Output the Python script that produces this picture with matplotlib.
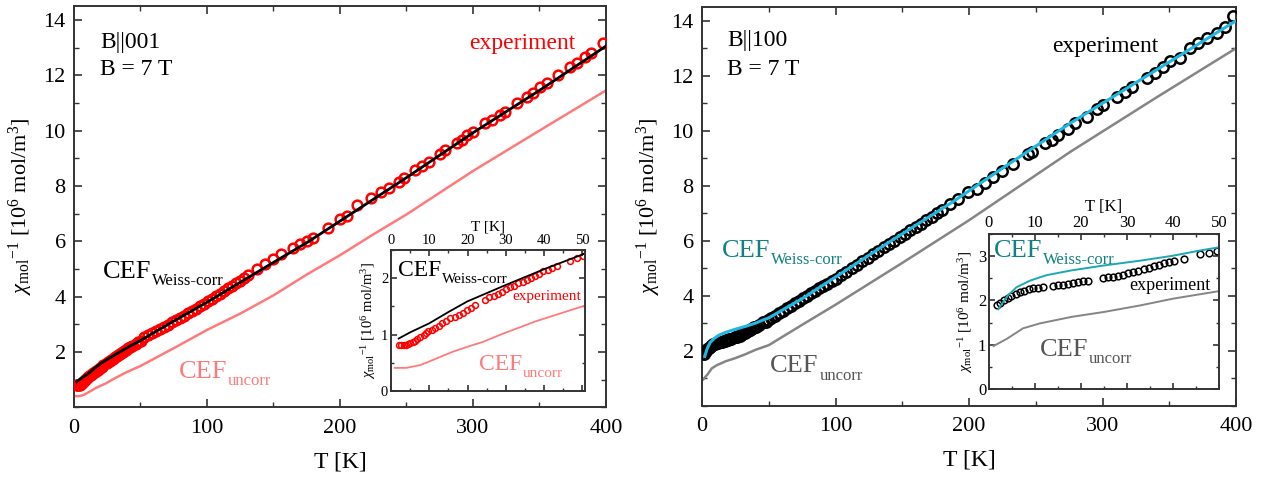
import numpy as np
import matplotlib
matplotlib.use('Agg')
import matplotlib.pyplot as plt
from matplotlib.ticker import MultipleLocator

plt.rcParams['font.family'] = ['Liberation Serif', 'DejaVu Serif']
plt.rcParams['mathtext.fontset'] = 'custom'
plt.rcParams['mathtext.rm'] = 'Liberation Serif'
plt.rcParams['mathtext.it'] = 'Liberation Serif:italic'

# ---------------- B || 001 ----------------
# experiment, low T (also shown in the inset)
T_exp_001_low = [2.0, 2.6, 3.3, 4.0, 4.5, 5.1, 5.7, 6.3, 6.8, 7.7, 8.5, 9.2, 9.8, 10.7,
                 11.6, 12.5, 13.3, 14.4, 15.5, 16.6, 17.7, 18.8, 19.8, 20.9, 22.0,
                 24.6, 25.7, 26.8, 27.9, 29.0, 30.0, 31.1, 32.2, 33.3, 34.4, 35.5,
                 36.6, 37.7, 38.8, 39.8, 40.9, 42.0, 43.3, 46.8, 48.5, 50.3]
chi_exp_001_low = [0.82, 0.82, 0.82, 0.82, 0.83, 0.85, 0.87, 0.89, 0.92, 0.96, 1.00, 1.03,
                   1.06, 1.09, 1.12, 1.16, 1.20, 1.25, 1.29, 1.32, 1.35, 1.39, 1.44, 1.48,
                   1.52, 1.62, 1.66, 1.69, 1.72, 1.76, 1.80, 1.84, 1.87, 1.91, 1.94, 1.97,
                   2.00, 2.04, 2.08, 2.12, 2.15, 2.18, 2.21, 2.30, 2.36, 2.40]
# experiment, high T
T_exp_001_high = [53, 56, 59, 62, 65, 68, 71, 74, 77, 80, 83, 86, 89, 92, 95, 98, 101, 104,
                  107, 110, 113, 116, 119, 122, 125, 128, 131, 137.5, 143.8, 150, 156, 165,
                  170, 175, 180, 191, 200, 205, 213, 223, 230.5, 236.7, 244.2, 248, 256.7,
                  261.7, 266.7, 275.4, 279.2, 287.9, 291.7, 295.4, 300.4, 309.1, 314.1,
                  320.4, 324.1, 332.9, 340.4, 345.4, 350.4, 355.4, 364.1, 372.9, 377.9,
                  384.1, 389.1, 397.9]
chi_exp_001_high = [2.55, 2.62, 2.69, 2.76, 2.84, 2.91, 2.99, 3.07, 3.15, 3.23, 3.31, 3.40,
                    3.48, 3.57, 3.66, 3.75, 3.84, 3.93, 4.02, 4.11, 4.20, 4.30, 4.39, 4.49,
                    4.58, 4.68, 4.77, 5.00, 5.18, 5.36, 5.54, 5.77, 5.89, 6.01, 6.13, 6.49,
                    6.79, 6.92, 7.31, 7.56, 7.79, 7.92, 8.16, 8.28, 8.58, 8.73, 8.88, 9.16,
                    9.30, 9.54, 9.66, 9.84, 9.96, 10.26, 10.38, 10.56, 10.68, 10.98, 11.22,
                    11.37, 11.56, 11.71, 12.01, 12.31, 12.45, 12.67, 12.79, 13.15]
# CEF Weiss-corrected
T_wc_001 = [2, 5, 10, 15, 20, 30, 40, 50, 75, 100, 125, 150, 175, 200, 250, 300, 350, 400]
chi_wc_001 = [0.93, 1.04, 1.20, 1.40, 1.59, 1.88, 2.16, 2.42, 3.12, 3.80, 4.52, 5.24, 5.95,
              6.73, 8.30, 9.92, 11.45, 13.05]
# CEF uncorrected
T_uc_001 = [1, 4, 7.7, 12, 16.3, 20.7, 24, 29.4, 38, 50, 75, 100, 125, 150, 175, 200, 225,
            250, 300, 350, 400]
chi_uc_001 = [0.41, 0.41, 0.46, 0.58, 0.70, 0.80, 0.87, 1.02, 1.24, 1.50, 2.14, 2.80, 3.39,
              4.05, 4.80, 5.50, 6.25, 6.97, 8.54, 10.0, 11.45]

# ---------------- B || 100 ----------------
T_exp_100_low = [1.7, 2.5, 3.3, 4.1, 4.9, 5.8, 6.7, 7.6, 8.6, 9.6, 10.6, 11.7, 13.9, 15.0,
                 16.1, 17.2, 18.3, 19.4, 20.5, 21.6, 24.8, 25.9, 27.0, 28.1, 29.2, 30.3,
                 31.4, 32.5, 33.6, 34.7, 35.8, 36.9, 38.0, 39.1, 40.2, 42.5, 45.8, 47.8, 49.6]
chi_exp_100_low = [1.89, 1.95, 2.00, 2.06, 2.11, 2.15, 2.19, 2.22, 2.25, 2.27, 2.29, 2.30,
                   2.33, 2.34, 2.36, 2.37, 2.39, 2.41, 2.43, 2.45, 2.51, 2.52, 2.54, 2.56,
                   2.58, 2.61, 2.64, 2.67, 2.71, 2.74, 2.77, 2.81, 2.84, 2.86, 2.88, 2.93,
                   3.04, 3.07, 3.11]
T_exp_100_high = [52, 55, 58, 61, 64, 67, 70, 73, 76, 79, 82, 85, 88, 91, 94, 97, 100, 104,
                  108, 112, 116, 120, 124, 128, 132, 136, 140, 144, 148, 152, 156, 160, 164,
                  168, 172, 176, 180, 185.8, 192.0, 199.5, 205.7, 212.0, 218.2, 224.5,
                  233.2, 244.5, 247.0, 257.0, 262.0, 267.0, 274.4, 279.4, 288.2, 295.7,
                  300.7, 310.6, 316.9, 321.9, 333.1, 339.4, 345.6, 350.6, 358.1, 365.6,
                  371.9, 378.1, 385.6, 391.9, 398.1]
chi_exp_100_high = [3.20, 3.28, 3.37, 3.46, 3.55, 3.64, 3.73, 3.82, 3.91, 4.00, 4.09, 4.18,
                    4.27, 4.36, 4.45, 4.54, 4.63, 4.76, 4.88, 5.01, 5.13, 5.26, 5.38, 5.51,
                    5.63, 5.76, 5.88, 6.01, 6.13, 6.26, 6.38, 6.51, 6.63, 6.76, 6.88, 7.01,
                    7.13, 7.35, 7.53, 7.78, 7.90, 8.10, 8.32, 8.54, 8.81, 9.17, 9.23, 9.54,
                    9.66, 9.84, 10.08, 10.27, 10.51, 10.81, 10.94, 11.24, 11.42, 11.61,
                    11.91, 12.09, 12.33, 12.52, 12.64, 13.00, 13.19, 13.37, 13.55, 13.79,
                    14.16]
T_wc_100 = [2, 3, 4, 6, 9, 12.5, 18, 25, 33, 40, 46, 50, 75, 96, 140, 186, 230, 276, 340, 400]
chi_wc_100 = [1.80, 1.95, 2.10, 2.30, 2.45, 2.57, 2.68, 2.79, 2.90, 3.01, 3.13, 3.20, 3.90,
              4.56, 5.95, 7.36, 8.80, 10.28, 12.20, 14.00]
T_uc_100 = [1, 4, 7.4, 11, 18, 25, 33, 40, 50, 75, 100, 150, 200, 276, 340, 400]
chi_uc_100 = [0.97, 1.14, 1.37, 1.48, 1.63, 1.74, 1.89, 2.04, 2.21, 2.95, 3.68, 5.20, 6.75,
              9.24, 11.20, 13.00]

RED = '#ff0000'
SALMON = '#ff7a7a'
CYAN = '#1fb8e2'
TEAL_TXT = '#12807f'
TEAL_IN = '#1aa8b4'
GRAY = '#858585'
GRAY_TXT = '#555555'
SPINE = '#333333'

ylab = r'$\chi_{\mathrm{mol}}{}^{-1}$ [10$^{6}$ mol/m$^{3}$]'


def style(ax, lsize, major_len=6, minor_len=3.5):
    for s in ax.spines.values():
        s.set_color(SPINE)
        s.set_linewidth(1.4)
    ax.tick_params(which='both', direction='in', top=True, right=True, color=SPINE,
                   labelsize=lsize)
    ax.tick_params(which='major', length=major_len, width=1.2)
    ax.tick_params(which='minor', length=minor_len, width=1.0)


def cef(ax, x, y, sub, color, size, subsize):
    t = ax.text(x, y, 'CEF', color=color, fontsize=size)
    ax.annotate(sub, xy=(1, 0), xycoords=t, xytext=(0.5, -1.5),
                textcoords='offset points', color=color, fontsize=subsize)


fig = plt.figure(figsize=(12.69, 4.82), dpi=100)
ax1 = fig.add_axes([0.0583, 0.1546, 0.4192, 0.8330])
ax2 = fig.add_axes([0.5532, 0.1577, 0.4208, 0.8278])
in1 = fig.add_axes([0.3081, 0.1888, 0.1529, 0.2925])
in2 = fig.add_axes([0.7793, 0.1929, 0.1813, 0.3216])

T_exp_001 = T_exp_001_low + T_exp_001_high
chi_exp_001 = chi_exp_001_low + chi_exp_001_high
T_exp_100 = T_exp_100_low + T_exp_100_high
chi_exp_100 = chi_exp_100_low + chi_exp_100_high

# --- left main
ax1.plot(T_uc_001, chi_uc_001, '-', color=SALMON, lw=1.8, zorder=2)
ax1.plot(T_exp_001, chi_exp_001, 'o', mfc='none', mec=RED, ms=7, mew=1.8, zorder=3)
ax1.plot(T_wc_001, chi_wc_001, '-', color='black', lw=2.0, zorder=4)
ax1.set_xlim(0, 400)
ax1.set_ylim(0, 14.5)
ax1.xaxis.set_major_locator(MultipleLocator(100))
ax1.xaxis.set_minor_locator(MultipleLocator(50))
ax1.set_yticks([2, 4, 6, 8, 10, 12, 14])
ax1.yaxis.set_minor_locator(MultipleLocator(1))
style(ax1, 16)
ax1.tick_params(axis='x', pad=8)
ax1.tick_params(axis='y', pad=6)
ax1.set_xlabel('T [K]', fontsize=17, labelpad=10)
ax1.set_ylabel(ylab, fontsize=16, labelpad=6)
ax1.text(19.5, 13.0, 'B||001', fontsize=17)
ax1.text(19.5, 12.0, 'B = 7 T', fontsize=17)
ax1.text(377, 12.94, 'experiment', fontsize=17, color=RED, ha='right')
cef(ax1, 22, 4.68, 'Weiss-corr', 'black', 19, 12)
cef(ax1, 78.7, 1.06, 'uncorr', SALMON, 19, 12)

# --- left inset
in1.plot(T_uc_001, chi_uc_001, '-', color=SALMON, lw=1.3)
in1.plot(T_exp_001_low, chi_exp_001_low, 'o', mfc='none', mec=RED, ms=4.2, mew=1.1)
in1.plot(T_wc_001, chi_wc_001, '-', color='black', lw=1.3)
in1.set_xlim(0, 50.7)
in1.set_ylim(0, 2.5)
in1.xaxis.set_major_locator(MultipleLocator(10))
in1.xaxis.set_minor_locator(MultipleLocator(5))
in1.yaxis.set_major_locator(MultipleLocator(1))
in1.yaxis.set_minor_locator(MultipleLocator(0.5))
style(in1, 10.5, 4, 2.5)
in1.tick_params(axis='x', labeltop=True, labelbottom=False, pad=2)
in1.tick_params(axis='y', pad=2)
in1.xaxis.set_label_position('top')
in1.set_xlabel('T [K]', fontsize=11, labelpad=3)
in1.set_ylabel(ylab, fontsize=10.5, labelpad=2)
cef(in1, 1.8, 2.04, 'Weiss-corr', 'black', 17, 11)
in1.text(49.8, 1.62, 'experiment', fontsize=11, color=RED, ha='right')
cef(in1, 22.9, 0.37, 'uncorr', SALMON, 17, 11)

# --- right main
ax2.plot(T_uc_100, chi_uc_100, '-', color=GRAY, lw=1.8, zorder=2)
ax2.plot(T_exp_100, chi_exp_100, 'o', mfc='none', mec='black', ms=7.5, mew=1.8, zorder=3)
ax2.plot(T_wc_100, chi_wc_100, '-', color=CYAN, lw=2.2, zorder=4)
ax2.set_xlim(0, 400)
ax2.set_ylim(0, 14.5)
ax2.xaxis.set_major_locator(MultipleLocator(100))
ax2.xaxis.set_minor_locator(MultipleLocator(50))
ax2.set_yticks([2, 4, 6, 8, 10, 12, 14])
ax2.yaxis.set_minor_locator(MultipleLocator(1))
style(ax2, 16)
ax2.tick_params(axis='x', pad=8)
ax2.tick_params(axis='y', pad=6)
ax2.set_xlabel('T [K]', fontsize=17, labelpad=10)
ax2.set_ylabel(ylab, fontsize=16, labelpad=6)
ax2.text(19, 13.08, 'B||100', fontsize=17)
ax2.text(19, 12.04, 'B = 7 T', fontsize=17)
ax2.text(262, 12.87, 'experiment', fontsize=17, color='black')
cef(ax2, 14.7, 5.41, 'Weiss-corr', TEAL_TXT, 19, 12)
cef(ax2, 51, 1.22, 'uncorr', GRAY_TXT, 19, 12)

# --- right inset
in2.plot(T_uc_100, chi_uc_100, '-', color=GRAY, lw=1.4)
in2.plot(T_exp_100_low, chi_exp_100_low, 'o', mfc='none', mec='black', ms=4.8, mew=1.1)
in2.plot(T_wc_100, chi_wc_100, '-', color=TEAL_IN, lw=1.4)
in2.set_xlim(0, 50)
in2.set_ylim(0, 3.5)
in2.xaxis.set_major_locator(MultipleLocator(10))
in2.xaxis.set_minor_locator(MultipleLocator(5))
in2.yaxis.set_major_locator(MultipleLocator(1))
in2.yaxis.set_minor_locator(MultipleLocator(0.5))
style(in2, 12, 4, 2.5)
in2.tick_params(axis='x', labeltop=True, labelbottom=False, pad=2)
in2.tick_params(axis='y', pad=2)
in2.xaxis.set_label_position('top')
in2.set_xlabel('T [K]', fontsize=12, labelpad=3)
in2.set_ylabel(ylab, fontsize=11, labelpad=2)
cef(in2, 1.1, 2.98, 'Weiss-corr', TEAL_TXT, 19, 12)
in2.text(30.6, 2.23, 'experiment', fontsize=13, color='black')
cef(in2, 11, 0.755, 'uncorr', GRAY_TXT, 19, 12)

fig.savefig('out.png', dpi=100)
